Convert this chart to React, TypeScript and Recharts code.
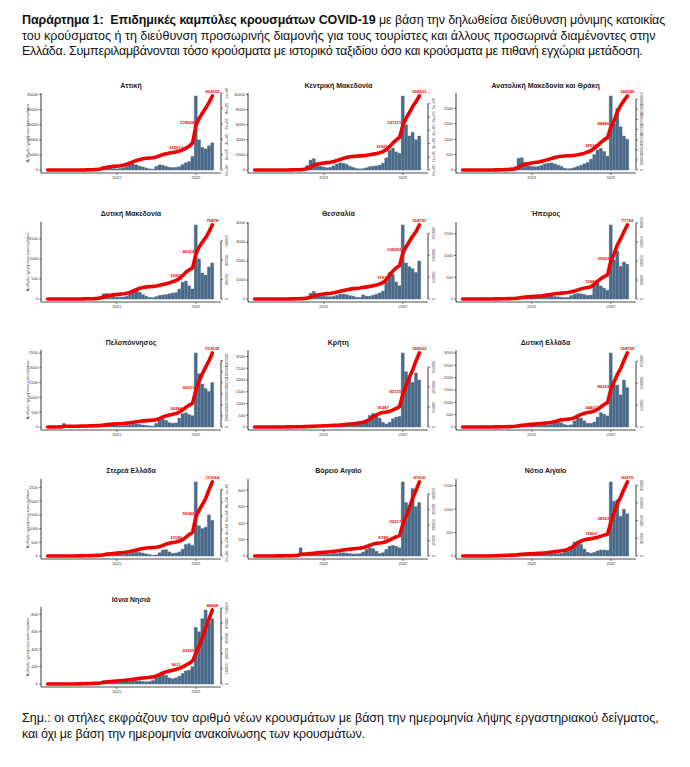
import React from 'react'
import { ComposedChart, Bar, Line, XAxis, YAxis } from 'recharts'

// half-month periods, Feb 2020 (2nd half) .. Mar 2022
const periods = [
  '2020-02b', '2020-03a', '2020-03b', '2020-04a', '2020-04b', '2020-05a', '2020-05b', '2020-06a', '2020-06b',
  '2020-07a', '2020-07b', '2020-08a', '2020-08b', '2020-09a', '2020-09b', '2020-10a', '2020-10b', '2020-11a',
  '2020-11b', '2020-12a', '2020-12b',
  '2021-01a', '2021-01b', '2021-02a', '2021-02b', '2021-03a', '2021-03b', '2021-04a', '2021-04b', '2021-05a',
  '2021-05b', '2021-06a', '2021-06b', '2021-07a', '2021-07b', '2021-08a', '2021-08b', '2021-09a', '2021-09b',
  '2021-10a', '2021-10b', '2021-11a', '2021-11b', '2021-12a', '2021-12b',
  '2022-01a', '2022-01b', '2022-02a', '2022-02b', '2022-03a', '2022-03b',
]
const yearTicks = ['2021-01a', '2022-01a']

const regions = [
  'Αττική', 'Κεντρική Μακεδονία', 'Ανατολική Μακεδονία και Θράκη',
  'Δυτική Μακεδονία', 'Θεσσαλία', 'Ήπειρος',
  'Πελοπόννησος', 'Κρήτη', 'Δυτική Ελλάδα',
  'Στερεά Ελλάδα', 'Βόρειο Αιγαίο', 'Νότιο Αιγαίο',
  'Ιόνια Νησιά',
]

// new cases per day
const attiki = [0, 5, 20, 15, 10, 5, 3, 3, 5, 10, 20, 60, 100, 150, 180, 300,
  600, 1200, 1300, 700, 450,
  400, 500, 800, 1200, 1800, 2000, 1700, 1300, 1000, 700, 400, 300,
  1200, 1700, 1600, 1200, 900, 800, 900, 1100, 1800, 2400, 2800, 4500,
  24500, 10000, 7500, 7000, 8000, 9000]
const kentrikiMak = [0, 5, 15, 10, 5, 2, 2, 3, 5, 10, 20, 50, 60, 80, 100, 200,
  600, 1300, 1500, 900, 500,
  400, 300, 350, 550, 800, 950, 900, 750, 500, 350,
  200, 150, 200, 300, 450, 500, 550, 650, 900,
  1600, 2600, 2900, 2400, 2200,
  9800, 6000, 4500, 5000, 4000, 4500]
const anatMakThraki = [0, 0, 2, 3, 2, 1, 1, 1, 2, 5, 10, 15, 25, 30, 40, 60,
  100, 380, 400, 250, 150,
  120, 110, 120, 150, 200, 220, 230, 200, 160, 120,
  60, 40, 50, 80, 120, 150, 200, 250, 350, 500, 650, 700, 600, 450,
  2400, 1500, 2000, 1400, 1100, 1000]
const dytikiMak = [0, 0, 1, 2, 1, 0, 0, 1, 2, 3, 5, 8, 10, 12, 15, 25,
  60, 130, 140, 90, 60,
  50, 45, 50, 70, 120, 190, 200, 170, 110, 70,
  40, 35, 60, 90, 100, 110, 130, 150, 160, 250, 420, 450, 330, 250,
  1850, 1000, 650, 600, 800, 900]
const thessalia = [0, 1, 3, 5, 3, 1, 1, 1, 2, 3, 5, 10, 20, 30, 40, 60,
  100, 300, 400, 250, 150,
  150, 130, 120, 150, 200, 250, 260, 230, 180, 150,
  90, 80, 220, 150, 150, 200, 250, 320, 420, 900, 1400, 1300, 900, 700,
  3900, 1900, 1700, 1600, 1400, 2000]
const ipeiros = [0, 1, 2, 3, 2, 1, 0, 1, 1, 2, 3, 5, 6, 8, 10, 15,
  20, 50, 60, 40, 30,
  30, 30, 35, 40, 50, 60, 70, 60, 50, 40, 35, 40, 80, 110, 130, 120, 100,
  80, 90, 300, 380, 300, 250, 200,
  1700, 900, 1100, 750, 850, 800]
const peloponnisos = [0, 2, 5, 8, 10, 120, 5, 3, 5, 8, 10, 12, 15, 18, 20, 25,
  30, 80, 90, 60, 40,
  40, 40, 50, 60, 80, 100, 100, 90, 70, 50, 40, 35,
  120, 250, 280, 220, 150, 130, 140, 300, 450, 480, 420, 380,
  2500, 1800, 1450, 1300, 1200, 1500]
const kriti = [0, 1, 3, 3, 2, 1, 1, 2, 5, 8, 10, 15, 15, 12, 12, 15,
  20, 40, 50, 40, 30,
  30, 30, 35, 40, 50, 60, 70, 80, 80, 90, 100, 130, 160,
  300, 500, 580, 520, 380, 200, 130, 200, 350, 420, 450,
  3150, 2350, 2100, 1900, 2300, 2000]
const dytikiEllada = [0, 1, 3, 3, 2, 1, 1, 2, 3, 5, 8, 10, 15, 20, 25, 30,
  40, 100, 120, 90, 70,
  60, 60, 65, 70, 80, 90, 110, 170, 200, 170, 100, 70, 90,
  250, 380, 360, 250, 150, 150, 200, 400, 580, 520, 450,
  3000, 1700, 1700, 1300, 1900, 1600]
const stereaEllada = [0, 1, 3, 3, 2, 1, 1, 2, 3, 5, 8, 10, 15, 18, 20, 25,
  30, 80, 100, 70, 50,
  50, 50, 60, 80, 100, 130, 140, 130, 110, 80, 50, 30, 40,
  120, 220, 230, 150, 100, 110, 150, 250, 420, 450, 380,
  2700, 1100, 1000, 1050, 1500, 1300]
const voreioAigaio = [0, 1, 2, 2, 1, 1, 1, 1, 2, 3, 5, 5, 8, 10,
  100, 15, 15, 25, 30, 25, 20,
  20, 25, 25, 30, 30, 40, 40, 35, 30, 25, 25, 30,
  50, 80, 100, 90, 60, 30, 40, 80, 120, 130, 120, 100,
  900, 650, 620, 820, 600, 650]
const notioAigaio = [0, 0, 1, 1, 1, 0, 1, 2, 5, 10, 15, 20, 20, 15, 12, 15,
  20, 40, 40, 30, 25,
  20, 20, 25, 30, 40, 50, 55, 50, 50, 60, 80, 120,
  200, 300, 320, 250, 150, 80, 60, 80, 110, 130, 130, 120,
  1580, 1170, 1200, 850, 1000, 900]
const ioniaNisia = [0, 0, 1, 2, 1, 1, 0, 1, 2, 3, 5, 8, 10, 10, 12, 15,
  20, 40, 45, 35, 25,
  20, 20, 25, 30, 35, 40, 40, 35, 30, 25, 30,
  40, 80, 120, 130, 100, 70, 60, 70, 90, 120, 150, 160, 200,
  650, 600, 750, 850, 700, 750]

const series = [attiki, kentrikiMak, anatMakThraki, dytikiMak, thessalia, ipeiros,
  peloponnisos, kriti, dytikiEllada, stereaEllada, voreioAigaio, notioAigaio, ioniaNisia]

// cumulative cases at the end of the period
const totals = [962052, 558231, 146089, 76478, 168791, 77742, 133635, 186022, 168705, 111064, 47636, 83676, 48648]
const leftSteps = [5000, 2000, 500, 500, 1000, 500, 500, 500, 500, 500, 200, 500, 200]
const rightSteps = [200000, 100000, 20000, 20000, 50000, 20000, 20000, 50000, 50000, 20000, 10000, 20000, 10000]
const labelIdx = [39, 45, 50]

const W = 240
const H = 106
const MARGIN = { top: 13, right: 5, bottom: 3, left: 27 }
const AXIS_W = 14
const X_H = 10
const PLOT_H = H - MARGIN.top - MARGIN.bottom - X_H
const PLOT_R = W - MARGIN.right - AXIS_W
const COL_W = 207.3
const ROW_H = 128.6
const BAR = '#4a6a89'
const RED = '#f20000'
const AXIS = '#222'
const FONT = "'Liberation Sans', Arial, sans-serif"
const NARROW = "'Liberation Sans Narrow', 'Liberation Sans', sans-serif"

// R-like common formatting of axis labels (fixed vs scientific)
function rFormat(ticks: number[]): string[] {
  const nz = ticks.filter(t => t > 0)
  const sig = (v: number) => String(v).replace(/0+$/, '').length
  const maxSig = Math.max(1, ...nz.map(sig))
  const sciW = maxSig === 1 ? 5 : maxSig + 5
  const fixW = String(Math.max(...ticks)).length
  if (fixW <= sciW) return ticks.map(String)
  return ticks.map(v => {
    if (v === 0) return (0).toFixed(maxSig - 1) + 'e+00'
    const e = Math.floor(Math.log10(v) + 1e-9)
    return (v / 10 ** e).toFixed(maxSig - 1) + 'e+' + String(e).padStart(2, '0')
  })
}

function Panel({ k }: { k: number }) {
  const col = k % 3
  const bars = series[k]
  const total = totals[k]
  const sum = bars.reduce((a, b) => a + b, 0)
  let run = 0
  const data = periods.map((p, i) => {
    run += bars[i]
    return { p, v: bars[i], c: (total * run) / sum }
  })
  const peak = Math.max(...bars)
  const yTop = peak * 1.04
  const yBot = -peak * 0.04
  const rTop = total * 1.04
  const rBot = -total * 0.04
  const lTicks: number[] = []
  for (let t = 0; t <= yTop; t += leftSteps[k]) lTicks.push(t)
  const rTicks: number[] = []
  for (let t = 0; t <= rTop; t += rightSteps[k]) rTicks.push(t)
  const lLab = rFormat(lTicks)
  const rLab = rFormat(rTicks)
  const stepPx = (PLOT_H * rightSteps[k]) / (rTop - rBot)
  const lastR = rTicks[rTicks.length - 1]

  const rightTick = (p: any) => {
    const v = p.payload.value
    const i = rTicks.indexOf(v)
    const y = p.y
    const tx = PLOT_R + 7.5
    return (
      <g>
        <line x1={PLOT_R} x2={PLOT_R + 2} y1={y} y2={y} stroke={AXIS} strokeWidth={0.6} />
        {v < lastR && <line x1={PLOT_R} x2={PLOT_R} y1={y} y2={y - stepPx} stroke={AXIS} strokeWidth={0.9} />}
        <text x={tx} y={y} transform={`rotate(-90 ${tx} ${y})`} textAnchor="middle"
          fontSize={4} fill="#333" fontFamily={FONT}>{rLab[i]}</text>
      </g>
    )
  }

  const redDot = (p: any) => {
    const i = p.index
    if (!labelIdx.includes(i)) return <g key={`d${i}`} />
    const left = i === labelIdx[1]
    return (
      <text key={`d${i}`} x={left ? p.cx - 1.5 : p.cx} y={p.cy - (left ? 1.5 : 3.2)}
        textAnchor={left ? 'end' : 'middle'} fontSize={4.3} fontWeight="bold" fill={RED} fontFamily={FONT}>
        {String(Math.round(data[i].c))}
      </text>
    )
  }

  const axisTitle = () => (
    <text x={29} y={MARGIN.top + PLOT_H / 2} transform={`rotate(-90 29 ${MARGIN.top + PLOT_H / 2})`}
      textAnchor="middle" fontSize={4} fill="#333" fontFamily={FONT}>
      Αριθμός ημερήσιων κρουσμάτων
    </text>
  )

  return (
    <ComposedChart width={W} height={H} data={data} margin={MARGIN} barCategoryGap={0} barGap={0}>
      <XAxis dataKey="p" type="category" ticks={yearTicks} interval={0} height={X_H}
        tickFormatter={(v: string) => v.slice(0, 4)} padding={{ left: 5, right: 7 }}
        tick={{ fontSize: 4, fill: '#333', fontFamily: FONT }} tickSize={2} tickMargin={1}
        axisLine={{ stroke: AXIS, strokeWidth: 0.8 }} tickLine={{ stroke: AXIS, strokeWidth: 0.6 }} />
      <YAxis yAxisId="left" width={AXIS_W} domain={[yBot, yTop]} ticks={lTicks} interval={0}
        tickFormatter={(v: number) => lLab[lTicks.indexOf(v)] ?? ''}
        tick={{ fontSize: 4, fill: '#333', fontFamily: FONT }} tickSize={2} tickMargin={1}
        axisLine={{ stroke: AXIS, strokeWidth: 0.9 }} tickLine={{ stroke: AXIS, strokeWidth: 0.6 }}
        label={col === 0 ? axisTitle : undefined} />
      <YAxis yAxisId="right" orientation="right" width={AXIS_W} domain={[rBot, rTop]} ticks={rTicks}
        interval={0} axisLine={false} tickLine={false} tick={rightTick} />
      <Bar yAxisId="left" dataKey="v" fill={BAR} stroke={BAR} strokeWidth={0.4} isAnimationActive={false} />
      <Line yAxisId="right" dataKey="c" type="linear" stroke={RED} strokeWidth={3.6}
        strokeLinejoin="round" strokeLinecap="round" dot={redDot} activeDot={false} isAnimationActive={false} />
    </ComposedChart>
  )
}

const textBlock: React.CSSProperties = {
  position: 'absolute', left: 22, whiteSpace: 'nowrap', fontFamily: NARROW,
  fontSize: 12.5, lineHeight: '15.5px', color: '#111',
}

export default function App() {
  return (
    <div style={{ position: 'absolute', left: 0, top: 0, width: 690, height: 767, background: '#fff', overflow: 'hidden' }}>
      <div style={{ ...textBlock, top: 13 }}>
        <div style={{ letterSpacing: -0.1 }}>
          <b>Παράρτημα 1:&nbsp; Επιδημικές καμπύλες κρουσμάτων COVID-19</b> με βάση την δηλωθείσα διεύθυνση μόνιμης κατοικίας
        </div>
        <div>του κρούσματος ή τη διεύθυνση προσωρινής διαμονής για τους τουρίστες και άλλους προσωρινά διαμένοντες στην</div>
        <div style={{ letterSpacing: -0.25 }}>
          Ελλάδα. Συμπεριλαμβάνονται τόσο κρούσματα με ιστορικό ταξιδίου όσο και κρούσματα με πιθανή εγχώρια μετάδοση.
        </div>
      </div>
      {regions.map((_, k) => (
        <div key={k} style={{ position: 'absolute', left: (k % 3) * COL_W, top: 80 + Math.floor(k / 3) * ROW_H }}>
          <Panel k={k} />
        </div>
      ))}
      <svg width={690} height={767} style={{ position: 'absolute', left: 0, top: 0, pointerEvents: 'none' }}>
        <g fontFamily={NARROW} fontSize={7} fontWeight="bold" fill="#222" textAnchor="middle">
          {regions.map((name, k) => (
            <text key={name} x={(k % 3) * COL_W + 131} y={87.5 + Math.floor(k / 3) * ROW_H}>{name}</text>
          ))}
        </g>
      </svg>
      <div style={{ ...textBlock, top: 711 }}>
        <div>Σημ.: οι στήλες εκφράζουν τον αριθμό νέων κρουσμάτων με βάση την ημερομηνία λήψης εργαστηριακού δείγματος,</div>
        <div style={{ letterSpacing: -0.15 }}>και όχι με βάση την ημερομηνία ανακοίνωσης των κρουσμάτων.</div>
      </div>
    </div>
  )
}
